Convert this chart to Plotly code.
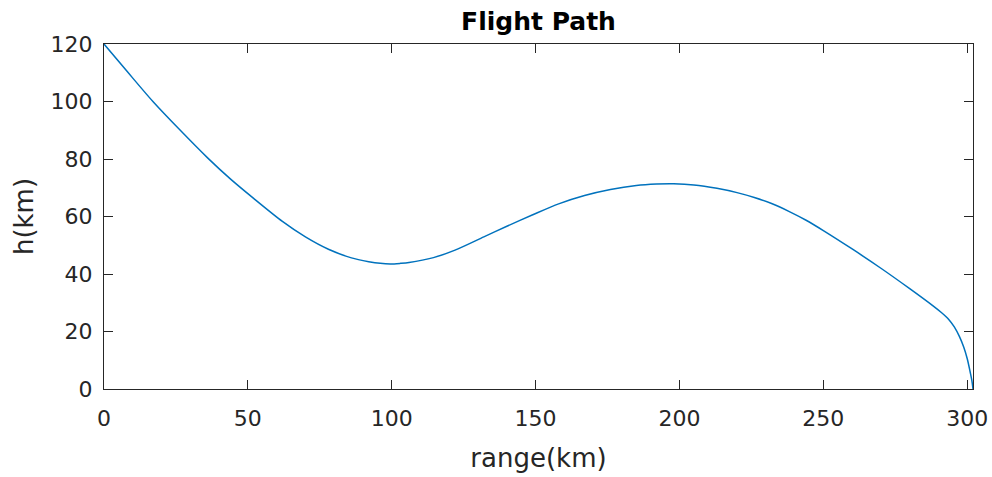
import plotly.graph_objects as go

# Flight path
range_km = [0, 8, 17, 26, 36, 44, 52, 62, 70, 78, 86, 92, 96, 99.5, 103, 106, 114.5,
            122, 132, 140, 149, 158, 167, 176, 185, 192, 198, 205, 213, 220, 226,
            232, 238, 244, 250, 260, 270, 280, 288, 291, 293.5, 295.5, 297.3, 298.8,
            300, 301, 301.6, 302]
h_km = [120, 110.5, 100, 90.5, 80.4, 73, 66.3, 58.3, 52.9, 48.6, 45.6, 44.3, 43.7,
        43.5, 43.7, 44.0, 45.7, 48.3, 52.9, 56.6, 60.6, 64.4, 67.3, 69.4, 70.8,
        71.3, 71.4, 71.0, 69.8, 68.3, 66.6, 64.5, 61.8, 58.7, 55.1, 48.7, 42.0,
        34.9, 29.0, 26.6, 24.3, 21.6, 18.2, 14.5, 10.5, 6.0, 3.0, 0]

x_ticks = [0, 50, 100, 150, 200, 250, 300]
y_ticks = [0, 20, 40, 60, 80, 100, 120]

axis_color = "#262626"
font_family = "DejaVu Sans, Liberation Sans, Arial, sans-serif"

W, H = 992, 477

fig = go.Figure()
fig.add_trace(go.Scatter(
    x=range_km, y=h_km, mode="lines",
    line=dict(color="#0072BD", width=1.5, shape="spline", smoothing=0.8),
    showlegend=False, hoverinfo="skip",
))

common_axis = dict(
    showgrid=False, zeroline=False, showline=True, linecolor=axis_color,
    linewidth=1, mirror="ticks", ticks="inside", ticklen=9, tickwidth=1,
    tickcolor=axis_color, automargin=False,
    tickfont=dict(family=font_family, size=22, color=axis_color),
)

fig.update_xaxes(range=[0, 302], tickvals=x_ticks, ticklabelstandoff=10,
                 title=dict(text="range(km)", standoff=18,
                            font=dict(family=font_family, size=26, color=axis_color)),
                 **common_axis)
fig.update_yaxes(range=[0, 120], tickvals=y_ticks, ticklabelstandoff=6,
                 title=dict(text="h(km)", standoff=9,
                            font=dict(family=font_family, size=26, color=axis_color)),
                 **common_axis)

fig.update_layout(
    width=W, height=H,
    margin=dict(l=104, r=19, t=44, b=88),
    paper_bgcolor="white", plot_bgcolor="white",
    title=dict(text="<b>Flight Path</b>", x=(104 + 973) / 2 / W, xanchor="center",
               y=1 - 21 / H, yanchor="middle", automargin=False,
               font=dict(family=font_family, size=25, color="#000000")),
)

fig.write_html("out.html",
               config={"displayModeBar": False},
               post_script="document.body.style.margin='0';document.body.style.overflow='hidden';")
